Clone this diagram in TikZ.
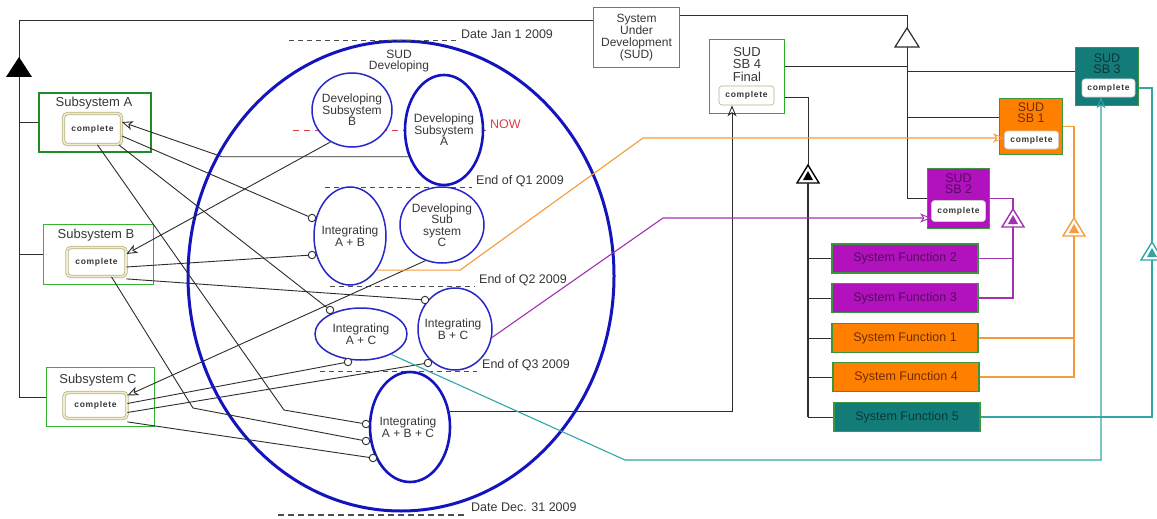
\documentclass[tikz,border=0pt]{standalone}
\usepackage{fontspec}
\setmainfont{Liberation Sans}
\usetikzlibrary{arrows.meta,calc,shapes.geometric}
\definecolor{txt}{RGB}{55,55,55}
\definecolor{lin}{RGB}{45,45,45}
\definecolor{bblue}{RGB}{20,20,190}
\definecolor{eblue}{RGB}{40,40,200}
\definecolor{gA}{RGB}{30,140,40}
\definecolor{gB}{RGB}{50,180,50}
\definecolor{sudg}{RGB}{40,175,40}
\definecolor{khaki}{RGB}{185,178,130}
\definecolor{khakil}{RGB}{240,236,205}
\definecolor{pur}{RGB}{178,18,190}
\definecolor{purT}{RGB}{85,10,95}
\definecolor{purL}{RGB}{160,50,175}
\definecolor{org}{RGB}{255,128,0}
\definecolor{orgT}{RGB}{110,45,0}
\definecolor{orgL}{RGB}{245,155,60}
\definecolor{tea}{RGB}{20,124,120}
\definecolor{teaT}{RGB}{10,55,55}
\definecolor{teaL}{RGB}{50,165,165}
\definecolor{nowred}{RGB}{225,60,70}
\definecolor{sbg}{RGB}{60,150,60}
\tikzset{
  every node/.style={font=\fontsize{12}{11.5}\selectfont, text=txt, inner sep=0pt},
  conn/.style={draw=lin, line width=0.9pt},
  oarrow/.style={-{Stealth[open,length=11pt,width=9pt,inset=3pt,line width=0.9pt]}},
  lol/.style={circle, draw=lin, fill=white, line width=0.9pt, minimum size=7.5pt, inner sep=0pt},
  ell/.style={ellipse, draw=eblue, fill=white, line width=1.5pt, inner sep=0pt},
  thickell/.style={ell, draw=bblue, line width=2.6pt},
  datel/.style={draw=lin!85, dash pattern=on 5pt off 4pt, line width=1pt},
  compl/.style={rectangle, rounded corners=4pt, draw=khaki, double=khakil, double distance=1.6pt, line width=0.8pt, fill=white,
     font=\fontsize{8.5}{9}\selectfont\bfseries\addfontfeature{LetterSpace=8}},
  wcompl/.style={rectangle, rounded corners=3pt, draw=black!20, line width=0.6pt, fill=white,
     font=\fontsize{8.5}{9}\selectfont\bfseries\addfontfeature{LetterSpace=8}},
  subbox/.style={rectangle, draw=gB, line width=1.2pt},
  sbbox/.style={rectangle, draw=sbg, line width=1.3pt},
  greenbox/.style={rectangle, draw=sudg, line width=1.6pt},
  sfbox/.style={rectangle, draw=sbg, line width=1.3pt, minimum width=146pt, minimum height=29pt, font=\fontsize{12.5}{13}\selectfont},
  gtri/.pic={\draw[fill=white, line width=1.4pt] (0,0) -- (-11,18) -- (11,18) -- cycle;
             \fill (0,6) -- (-5,15) -- (5,15) -- cycle;},
  otri/.pic={\draw[fill=white, line width=1.2pt] (0,0) -- (-12,19) -- (12,19) -- cycle;}
}
\begin{document}
\begin{tikzpicture}[x=1pt,y=-1pt]
\useasboundingbox (0,0) rectangle (1157,519);
\fill[white] (0,0) rectangle (1157,519);

% big SUD ellipse
\node[ellipse, draw=bblue, line width=3pt, minimum width=426pt, minimum height=470pt] (big) at (401,276) {};
\node[align=center] (bigT) at (399,61) {SUD\\Developing};

% date lines
\coordinate (d0a) at (289,41); \coordinate (d0b) at (457,41);
\draw[datel] (d0a) -- (d0b);
\node[anchor=west, font=\fontsize{12.5}{13}\selectfont] (d0) at (461,34) {Date Jan 1 2009};
\coordinate (nowa) at (293,130); \coordinate (nowb) at (488,130);
\draw[draw=nowred, dash pattern=on 6pt off 5pt, line width=0.8pt] (nowa) -- (nowb);
\node[anchor=west, text=nowred, font=\fontsize{12.5}{13}\selectfont] (now) at (490,124) {NOW};
\coordinate (q1a) at (325,187); \coordinate (q1b) at (472,187);
\draw[datel] (q1a) -- (q1b);
\node[anchor=west, font=\fontsize{12.5}{13}\selectfont] (q1) at (476,181) {End of Q1 2009};
\coordinate (q2a) at (330,286); \coordinate (q2b) at (475,286);
\draw[datel] (q2a) -- (q2b);
\node[anchor=west, font=\fontsize{12.5}{13}\selectfont] (q2) at (479,280) {End of Q2 2009};
\coordinate (q3a) at (320,371); \coordinate (q3b) at (477,371);
\draw[datel] (q3a) -- (q3b);
\node[anchor=west, font=\fontsize{12.5}{13}\selectfont] (q3) at (482,365) {End of Q3 2009};
\coordinate (d1a) at (278,515); \coordinate (d1b) at (466,515);
\draw[datel, line width=2pt, dash pattern=on 6pt off 4pt] (d1a) -- (d1b);
\node[anchor=west, font=\fontsize{12.5}{13}\selectfont] (d1) at (471,507) {Date Dec. 31 2009};

% small ellipses
\node[ell, minimum width=80pt, minimum height=74pt] (DevB) at (352,110) {};
\node[align=center] at (DevB.center) {Developing\\Subsystem\\B};
\node[thickell, minimum width=78pt, minimum height=110pt] (DevA) at (444,130) {};
\node[align=center] at (DevA.center) {Developing\\Subsystem\\A};
\node[ell, minimum width=72pt, minimum height=98pt] (IntAB) at (350,236) {};
\node[align=center] at (IntAB.center) {Integrating\\A + B};
\node[ell, minimum width=84pt, minimum height=76pt] (DevC) at (442,225) {};
\node[align=center] at (DevC.center) {Developing\\Sub\\system\\C};
\node[ell, minimum width=92pt, minimum height=52pt] (IntAC) at (361,334) {};
\node[align=center] at (IntAC.center) {Integrating\\A + C};
\node[ell, minimum width=74pt, minimum height=82pt] (IntBC) at (455,329) {};
\node[align=center] at (453,329) {Integrating\\B + C};
\node[thickell, minimum width=80pt, minimum height=110pt] (IntABC) at (410,427) {};
\node[align=center] at (408,427) {Integrating\\A + B + C};

% subsystem boxes
\node[rectangle, draw=gA, line width=2.4pt, minimum width=112pt, minimum height=59pt] (SubA) at (95,122.5) {};
\node[font=\fontsize{13}{13}\selectfont] at (94,103) {Subsystem A};
\node[compl, minimum width=58pt, minimum height=31pt] (Acomp) at (92.5,129) {complete};
\node[subbox, minimum width=110pt, minimum height=60pt] (SubB) at (98.5,254.5) {};
\node[font=\fontsize{13}{13}\selectfont] at (96,235) {Subsystem B};
\node[compl, minimum width=59pt, minimum height=29pt] (Bcomp) at (96.5,262) {complete};
\node[subbox, minimum width=108pt, minimum height=59pt] (SubC) at (100.5,397) {};
\node[font=\fontsize{13}{13}\selectfont] at (98,380) {Subsystem C};
\node[compl, minimum width=63pt, minimum height=26pt] (Ccomp) at (95.5,405.5) {complete};

% left frame
\coordinate (fTop) at (19,20);
\coordinate (fBot) at (19,397);
\draw[conn] (fTop) -- (fBot);
\fill[black] (19,57) -- (6,77) -- (32,77) -- cycle;
\draw[conn] (SubA.west -| fTop) -- (SubA.west);
\draw[conn] (SubB.west -| fTop) -- (SubB.west);
\draw[conn] (SubC.west -| fTop) -- (SubC.west);

% SUD box
\node[greenbox, minimum width=86pt, minimum height=60pt] (SUD) at (636.5,37.5) {};
\node[align=center, font=\fontsize{12}{12}\selectfont] at (SUD.center) {System\\Under\\Development\\(SUD)};
\draw[conn] (fTop) -- (fTop -| SUD.west);

% SB4
\node[greenbox, minimum width=75pt, minimum height=74pt] (SB4) at (747,76.5) {};
\node[align=center, font=\fontsize{13}{12.5}\selectfont] at (747,64.5) {SUD\\SB 4\\Final};
\node[wcompl, draw=khaki, minimum width=55pt, minimum height=19pt] (SB4c) at (746.5,95.5) {complete};

% SB3, SB1, SB2
\node[sbbox, fill=tea, minimum width=63pt, minimum height=58pt] (SB3) at (1107,76.5) {};
\node[align=center, text=teaT, font=\fontsize{12.5}{11.5}\selectfont] at (1107,63.5) {SUD\\SB 3};
\node[wcompl, minimum width=53pt, minimum height=18pt] (SB3c) at (1108.5,88) {complete};
\node[sbbox, fill=org, minimum width=63pt, minimum height=56pt] (SB1) at (1031,126.5) {};
\node[align=center, text=orgT, font=\fontsize{12.5}{11.5}\selectfont] at (1031,112.5) {SUD\\SB 1};
\node[wcompl, minimum width=54pt, minimum height=18pt] (SB1c) at (1031.5,140) {complete};
\node[sbbox, fill=pur, minimum width=62pt, minimum height=60pt] (SB2) at (958.5,198.5) {};
\node[align=center, text=purT, font=\fontsize{12.5}{11.5}\selectfont] at (958.5,183.5) {SUD\\SB 2};
\node[wcompl, minimum width=54pt, minimum height=21pt] (SB2c) at (958.5,211) {complete};

% system functions
\node[sfbox, fill=pur, text=purT] (SF2) at (905,258.5) {System Function 2};
\node[sfbox, fill=pur, text=purT] (SF3) at (905,298) {System Function 3};
\node[sfbox, fill=org, text=orgT] (SF1) at (905,338) {System Function 1};
\node[sfbox, fill=org, text=orgT] (SF4) at (906,377) {System Function 4};
\node[sfbox, fill=tea, text=teaT] (SF5) at (907,417) {System Function 5};

% top generalization
\coordinate (gA) at (907,28);
\coordinate (gAb) at (907,47);
\pic[color=lin] at (gA) {otri};
\draw[conn] ([yshift=22.5pt]SUD.east) -- ([yshift=22.5pt]SUD.east -| gA) -- (gA);
\draw[conn] (gAb) -- (SB2.west -| gA) -- (SB2.west);
\draw[conn] ([yshift=10.5pt]SB4.east) -- ([yshift=10.5pt]SB4.east -| gA);
\draw[conn] ([yshift=5.5pt]SB3.west -| gA) -- ([yshift=5.5pt]SB3.west);
\draw[conn] ([yshift=9.5pt]SB1.west -| gA) -- ([yshift=9.5pt]SB1.west);

% black SF generalization
\coordinate (gB) at (808,165);
\coordinate (gBb) at (808,183);
\pic[color=black] at (gB) {gtri};
\draw[conn] ([yshift=-20.5pt]SB4.east) -- ([yshift=-20.5pt]SB4.east -| gB) -- (gB);
\draw[conn, line width=1.2pt] (gBb) -- (SF5.west -| gB);
\foreach \s in {SF2,SF3,SF1,SF4,SF5} \draw[conn] (\s.west -| gB) -- (\s.west);

% purple generalization
\coordinate (gP) at (1013,209);
\coordinate (gPb) at (1013,227);
\pic[color=purL] at (gP) {gtri};
\draw[draw=purL, line width=1.2pt] (SB2.east) -- (SB2.east -| gP) -- (gP);
\draw[draw=purL, line width=1.2pt] (gPb) -- (SF3.east -| gP) -- (SF3.east);
\draw[draw=purL, line width=1.2pt] (SF2.east) -- (SF2.east -| gP);

% orange generalization
\coordinate (gO) at (1074,218);
\coordinate (gOb) at (1074,236);
\pic[color=orgL] at (gO) {gtri};
\draw[draw=orgL, line width=1.2pt] (SB1.east) -- (SB1.east -| gO) -- (gO);
\draw[draw=orgL, line width=1.2pt] (gOb) -- (SF4.east -| gO) -- (SF4.east);
\draw[draw=orgL, line width=1.2pt] (SF1.east) -- (SF1.east -| gO);

% teal generalization
\coordinate (gT) at (1152,242);
\coordinate (gTb) at (1152,260);
\pic[color=teaL] at (gT) {gtri};
\draw[draw=teaL, line width=1.2pt] ([yshift=-11.5pt]SB3.east) -- ([yshift=-11.5pt]SB3.east -| gT) -- (gT);
\draw[draw=teaL, line width=1.2pt] (gTb) -- (SF5.east -| gT) -- (SF5.east);

% development arrows into complete boxes
\coordinate (aBend) at (222,156);
\draw[conn, oarrow] (DevA.217) -- (DevA.217 -| aBend) -- ([yshift=7pt]Acomp.east);
\draw[conn, oarrow] (DevB.236) -- ([yshift=8pt]Bcomp.east);
\draw[conn, oarrow] (DevC.245) -- ([yshift=10pt]Ccomp.east);

% lollipops
\node[lol] (lAB1) at (312,218) {};
\node[lol] (lAB2) at (312,255) {};
\node[lol] (lBC1) at (425,300) {};
\node[lol] (lBC2) at (428,363) {};
\node[lol] (lAC1) at (330,310) {};
\node[lol] (lAC2) at (348,362) {};
\node[lol] (lABC1) at (366,424) {};
\node[lol] (lABC2) at (366,441) {};
\node[lol] (lABC3) at (373,458) {};

% required-interface lines
\draw[conn] ([yshift=-7pt]Acomp.east) -- (lAB1);
\draw[conn] ([xshift=-3pt]Acomp.south east) -- (lAC1);
\coordinate (dBend) at (284,410);
\draw[conn] ([xshift=5pt]Acomp.south) -- (dBend) -- (lABC1);
\draw[conn] ([yshift=-5pt]Bcomp.east) -- (lAB2);
\draw[conn] ([yshift=-2pt]Bcomp.south east) -- (lBC1);
\coordinate (cBend) at (193,408);
\draw[conn] ([xshift=15pt]Bcomp.south) -- (cBend) -- (lABC2);
\draw[conn] ([yshift=2pt]Ccomp.east) -- (lAC2);
\draw[conn] ([yshift=-7pt]Ccomp.east) -- (lBC2);
\draw[conn] ([yshift=-3pt]Ccomp.south east) -- (lABC3);

% integration results
\coordinate (abcBend) at (732,412);
\draw[conn, oarrow] (IntABC.21) -- (IntABC.21 -| abcBend) -- ([xshift=-14.5pt]SB4c.south);
\coordinate (oB1) at (460,270);
\coordinate (oB2) at (643,138);
\draw[draw=orgL, line width=1.1pt, oarrow] (IntAB.308) -- (IntAB.308 -| oB1) -- (oB2) -- ([yshift=2pt]SB1c.west);
\coordinate (pB1) at (663,218);
\draw[draw=purL, line width=1.1pt, oarrow] (IntBC.-13) -- (pB1) -- ([yshift=-7pt]SB2c.west);
\coordinate (tB1) at (625,460);
\coordinate (tB2) at (1101,460);
\draw[draw=teaL, line width=1.1pt, oarrow] (IntAC.326) -- (tB1) -- (tB2) -- (tB2 |- SB3c.south);
\end{tikzpicture}
\end{document}
